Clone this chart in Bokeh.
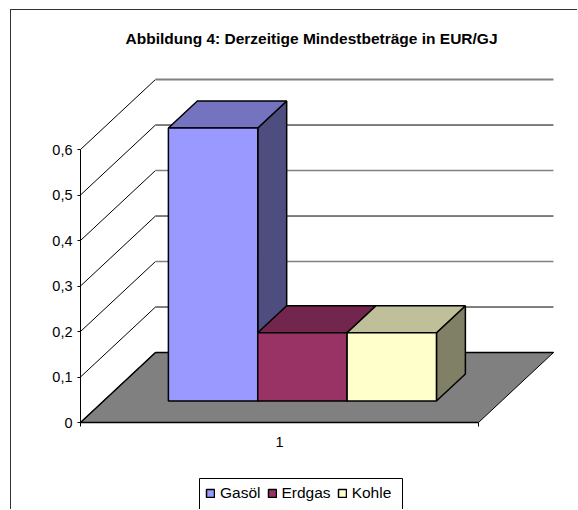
from bokeh.plotting import figure
from bokeh.models import (FixedTicker, Legend, LegendItem, LinearAxis, Range1d, Title)
from bokeh.embed import file_html
from bokeh.resources import INLINE

title_text = "Abbildung 4: Derzeitige Mindestbeträge in EUR/GJ"
series_names = ["Gasöl", "Erdgas", "Kohle"]
series_values = [0.6, 0.15, 0.15]
category_labels = ["1"]
y_ticks = [0, 0.1, 0.2, 0.3, 0.4, 0.5, 0.6]
y_tick_labels = ["0", "0,1", "0,2", "0,3", "0,4", "0,5", "0,6"]

front_colors = ["#9999FF", "#993366", "#FFFFCC"]
top_colors = ["#7373BF", "#73264D", "#BFBF99"]
side_colors = ["#4D4D80", "#4D1A33", "#808066"]
wall_line_colors = ["#000000", "#808080", "#000000", "#808080", "#000000", "#808080"]
wall_line_widths = [1, 1.5, 1, 1.5, 1, 2]

# oblique projection of the 3D box, in data units
DX, DY = 0.1884, 0.1538      # full depth shift of the floor
BAR_X0, BAR_W = 0.163, 0.2245
D0, D1 = 0.307, 0.693        # bars' front and back depth


def proj(x, y, d):
    return x + DX * d, y + DY * d


W, H = 567, 500
CX, CY = 11, 10              # where the canvas starts in the window
TOP = 50                     # height of the title panel
SX, SY = 398.0, 455.0        # pixels per data unit
ORIG_X, ORIG_Y = 80 - CX, 422 - CY   # canvas position of the data origin
FONT = "Liberation Sans"


def px_x(v):
    return (v - CX - ORIG_X) / SX


def px_y(v):
    return (ORIG_Y - (v - CY)) / SY


p = figure(width=W, height=H, output_backend="svg", toolbar_location=None,
           x_range=Range1d(-ORIG_X / SX, (W - ORIG_X) / SX),
           y_range=Range1d(-(H - ORIG_Y) / SY, (ORIG_Y - TOP) / SY),
           min_border_left=0, min_border_right=0, min_border_top=TOP,
           min_border_bottom=0, x_axis_type=None, y_axis_type=None,
           outline_line_color=None, background_fill_color="white",
           margin=(9, 0, 0, 10))
p.grid.visible = False

t = Title(text=title_text, text_font=FONT, text_font_style="bold",
          text_font_size="15.5px", text_color="#000000", align="left",
          offset=114, standoff=27)
p.title = t
p.styles = {"border-top": "1px solid #333333", "border-left": "1px solid #333333"}

# walls
for tick, col, lw in zip(y_ticks[1:], wall_line_colors, wall_line_widths):
    x1, y1 = proj(0, tick, 1)
    p.line([0, x1], [tick, y1], line_color="#000000", line_width=1)
    x2, _ = proj(1, tick, 1)
    p.line([x1, x2], [y1, y1], line_color=col, line_width=lw)

# floor
fl = [proj(0, 0, 0), proj(1, 0, 0), proj(1, 0, 1), proj(0, 0, 1)]
p.patch([a for a, _ in fl], [b for _, b in fl], fill_color="#808080",
        line_color="#000000", line_width=1)
x1, y1 = proj(0, 0, 1)
x2, _ = proj(1, 0, 1)
p.line([x1, x2], [y1, y1], line_color="#000000", line_width=1.5)
x3, y3 = proj(0, 0, 0)
p.line([x3, x1], [y3, y1], line_color="#000000", line_width=1.5)

# bars
items = []
for i, (name, val) in enumerate(zip(series_names, series_values)):
    left = BAR_X0 + i * BAR_W
    right = left + BAR_W
    top_pts = [proj(left, val, D0), proj(right, val, D0), proj(right, val, D1), proj(left, val, D1)]
    side_pts = [proj(right, 0, D0), proj(right, 0, D1), proj(right, val, D1), proj(right, val, D0)]
    p.patch([a for a, _ in side_pts], [b for _, b in side_pts], fill_color=side_colors[i],
            line_color="#000000", line_width=1.5)
    p.patch([a for a, _ in top_pts], [b for _, b in top_pts], fill_color=top_colors[i],
            line_color="#000000", line_width=1.5)
    fx0, fy0 = proj(left, 0, D0)
    fx1, fy1 = proj(right, val, D0)
    r = p.quad(left=[fx0], right=[fx1], bottom=[fy0], top=[fy1], fill_color=front_colors[i],
               line_color="#000000", line_width=1.5)
    items.append(LegendItem(label=name, renderers=[r]))

# axes
yax = LinearAxis(ticker=FixedTicker(ticks=y_ticks), bounds=(0, 0.6), fixed_location=0,
                 major_label_overrides=dict(zip(y_ticks, y_tick_labels)),
                 major_tick_in=0, major_tick_out=3, minor_tick_line_color=None,
                 major_label_standoff=5, axis_line_color="#000000",
                 major_label_text_font=FONT, major_label_text_font_size="14.5px",
                 major_label_text_color="#000000")
p.add_layout(yax, "left")
xax = LinearAxis(ticker=FixedTicker(ticks=[0.5], minor_ticks=[0, 1]), bounds=(0, 1), fixed_location=0,
                 major_label_overrides={0.5: category_labels[0]},
                 major_tick_line_color=None, major_tick_in=0, major_tick_out=0,
                 minor_tick_in=0, minor_tick_out=4, minor_tick_line_color="#000000",
                 major_label_standoff=10, axis_line_color="#000000", axis_line_width=1.5,
                 major_label_text_font=FONT, major_label_text_font_size="14.5px",
                 major_label_text_color="#000000")
p.add_layout(xax, "below")

# legend box, open at the bottom edge of the window
p.quad(left=[px_x(199)], right=[px_x(402)], top=[px_y(478)], bottom=[px_y(540)],
       fill_color="white", line_color="#000000", line_width=1)
legend = Legend(items=items, orientation="horizontal", location=(194, 8),
                border_line_color=None, background_fill_alpha=0,
                glyph_width=10, glyph_height=10, label_standoff=5, spacing=6,
                padding=4, margin=0, label_text_font=FONT, label_text_font_size="15.5px",
                label_text_color="#000000", label_height=14)
p.add_layout(legend, "center")

open("out.html", "w").write(file_html(p, INLINE))
